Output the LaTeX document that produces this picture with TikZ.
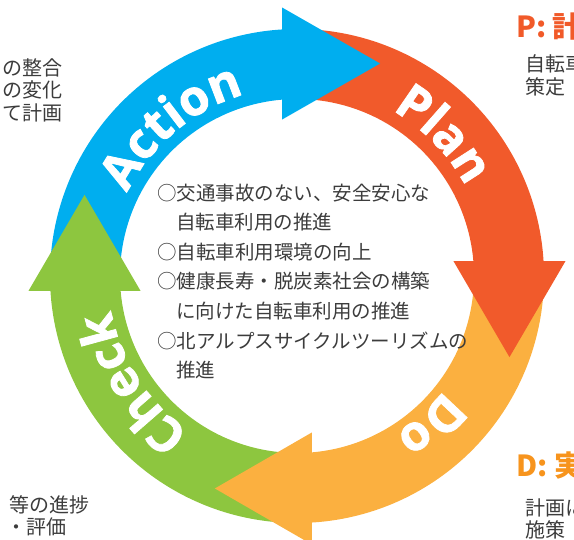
\documentclass[tikz,border=0pt]{standalone}
\usepackage{fontspec}
\newfontfamily\jpfont{Noto Sans CJK JP}
\newfontfamily\lblfont{Open Sans}[BoldFeatures={FakeBold=1.6}]
\usetikzlibrary{calc,decorations.text}
\definecolor{cblue}{HTML}{00AEEF}
\definecolor{cred}{HTML}{F15A2B}
\definecolor{corange}{HTML}{FBB040}
\definecolor{cgreen}{HTML}{8DC63F}
\definecolor{ctext}{HTML}{3C3C3C}
\definecolor{cP}{HTML}{F15A29}
\definecolor{cD}{HTML}{F7941D}
\begin{document}
\begin{tikzpicture}[x=1pt,y=1pt,
  jp/.style={font=\jpfont\fontsize{19.5}{23}\selectfont, text=ctext, inner sep=0pt, anchor=west},
  side/.style={font=\jpfont\fontsize{20}{24}\selectfont, text=ctext, inner sep=0pt},
  phase/.style={font=\jpfont\bfseries\fontsize{29}{32}\selectfont, inner sep=0pt, anchor=west}
]
\useasboundingbox (0,0) rectangle (574,540);
\coordinate (c) at (297,264);
\begin{scope}[shift={(297,264)}]
  % bands
  \fill[cblue]   (182:247) arc[start angle=182, end angle=91, radius=247] -- (91:177) arc[start angle=91, end angle=182, radius=177] -- cycle;
  \fill[cred]    (92:247) arc[start angle=92, end angle=1, radius=247] -- (1:177) arc[start angle=1, end angle=92, radius=177] -- cycle;
  \fill[corange] (2:247) arc[start angle=2, end angle=-89, radius=247] -- (-89:177) arc[start angle=-89, end angle=2, radius=177] -- cycle;
  \fill[cgreen]  (-88:247) arc[start angle=-88, end angle=-179, radius=247] -- (-179:177) arc[start angle=-179, end angle=-88, radius=177] -- cycle;
  % heads
  \fill[cblue]   ($(94:213)+(0,56)$) -- ($(94:213)+(98,0)$) -- ($(94:213)+(0,-56)$) -- cycle;
  \fill[cred]    ($(4:213)+(56,0)$) -- ($(4:213)+(0,-96)$) -- ($(4:213)+(-56,0)$) -- cycle;
  \fill[corange] ($(-86:213)+(0,56)$) -- ($(-86:213)+(-97,0)$) -- ($(-86:213)+(0,-56)$) -- cycle;
  \fill[cgreen]  ($(184:213)+(56,0)$) -- ($(184:213)+(0,96)$) -- ($(184:213)+(-56,0)$) -- cycle;
  % labels
  \path[decorate, decoration={text along path, text align=center, text color=white,
     text={|\lblfont\bfseries\fontsize{49}{49}\selectfont|Action}}]
     (170:189) arc[start angle=170, end angle=90, radius=189];
  \path[decorate, decoration={text along path, text align=center, text color=white,
     text={|\lblfont\bfseries\fontsize{49}{49}\selectfont|Plan}}]
     (84:191) arc[start angle=84, end angle=4, radius=191];
  \path[decorate, decoration={text along path, text align=center, text color=white,
     text={|\lblfont\bfseries\fontsize{49}{49}\selectfont|Do}}]
     (-8:186) arc[start angle=-8, end angle=-88, radius=186];
  \path[decorate, decoration={text along path, text align=center, text color=white,
     text={|\lblfont\bfseries\fontsize{49}{49}\selectfont|Check}}]
     (253:189) arc[start angle=253, end angle=173, radius=189];
\end{scope}
% centre text
\node[jp] (t1) at (157,347) {○交通事故のない、安全安心な};
\node[jp] (t2) at (176,317.5) {自転車利用の推進};
\node[jp] (t3) at (157,288) {○自転車利用環境の向上};
\node[jp] (t4) at (157,258.5) {○健康長寿・脱炭素社会の構築};
\node[jp] (t5) at (176,229) {に向けた自転車利用の推進};
\node[jp] (t6) at (157,199.5) {○北アルプスサイクルツーリズムの};
\node[jp] (t7) at (176,170) {推進};
% left side texts
\node[side, anchor=east] (a1) at (63,472) {の整合};
\node[side, anchor=east] (a2) at (63,450) {の変化};
\node[side, anchor=east] (a3) at (63,427) {て計画};
\node[side, anchor=east] (c1) at (90,35) {等の進捗};
\node[side, anchor=east] (c2) at (67,13) {・評価};
% right side texts
\node[phase, text=cP] (p0) at (516,513) {P: 計};
\node[side, anchor=west] (p1) at (525,476) {自転車};
\node[side, anchor=west] (p2) at (525,453) {策定};
\node[phase, text=cD] (d0) at (516,74) {D: 実};
\node[side, anchor=west] (d1) at (525,32) {計画に};
\node[side, anchor=west] (d2) at (525,10) {施策};
\end{tikzpicture}
\end{document}
